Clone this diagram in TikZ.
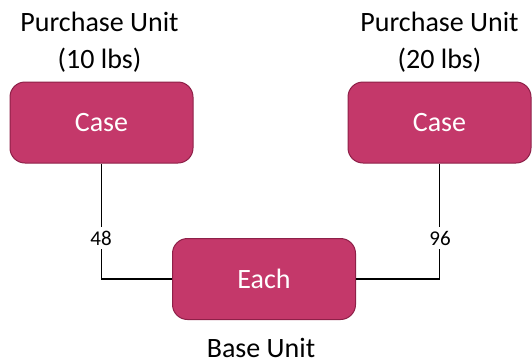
\documentclass[tikz,border=0pt]{standalone}
\usepackage{fontspec}
\setmainfont{Carlito}
\begin{document}
\begin{tikzpicture}[x=1pt,y=-1pt,
  unitbox/.style={draw=unitedge,fill=unitfill,line width=1pt,rounded corners=15pt,
    minimum width=183pt,minimum height=81pt,inner sep=0pt,text=white,
    font=\fontsize{28}{34}\selectfont},
  caption/.style={align=center,font=\fontsize{28}{37}\selectfont,inner sep=0pt,anchor=base},
  qty/.style={font=\fontsize{21}{25}\selectfont,inner sep=0pt,fill=white,anchor=base},
  link/.style={line width=1.5pt,black}]
\definecolor{unitfill}{RGB}{196,56,106}
\definecolor{unitedge}{RGB}{142,32,72}
\useasboundingbox (0,0) rectangle (532,362);
% unit boxes
\node[unitbox] (caseA) at (101.5,122.5) {Case};
\node[unitbox] (caseB) at (439.5,122.5) {Case};
\node[unitbox] (each) at (264,279) {Each};
% captions (base anchor sits on the last line)
\node[caption] (capA) at (99.5,68) {Purchase Unit\\(10 lbs)};
\node[caption] (capB) at (439.5,68) {Purchase Unit\\(20 lbs)};
\node[caption] (capBase) at (261,357.5) {Base Unit};
% conversion links
\coordinate (cornerA) at (caseA.south |- each.west);
\coordinate (cornerB) at (caseB.south |- each.east);
\draw[link] (caseA.south) -- (cornerA) -- (each.west);
\draw[link] (caseB.south) -- (cornerB) -- (each.east);
\node[qty,inner ysep=4pt] (qtyA) at (101,245) {48};
\node[qty,inner ysep=4pt] (qtyB) at (440,245) {96};
\end{tikzpicture}
\end{document}
